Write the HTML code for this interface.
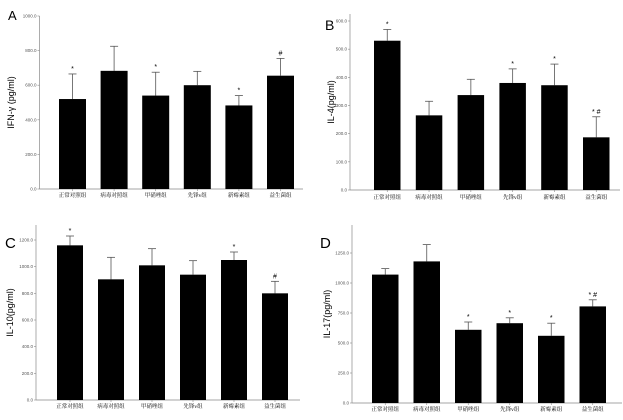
<!DOCTYPE html>
<html><head><meta charset="utf-8">
<style>
html,body{margin:0;padding:0;background:#fff;}
svg{display:block;}
text{font-family:"Liberation Sans","Noto Sans CJK SC",sans-serif;fill:#000;}
.tick{font-size:4.5px;fill:#555;}
.cat{font-size:5.5px;font-family:"Liberation Serif","Noto Serif CJK SC",serif;}
</style></head>
<body>
<svg id="chart" width="623" height="420" viewBox="0 0 623 420" xmlns="http://www.w3.org/2000/svg"></svg>
<script>
const categories = ["正常对照组","病毒对照组","甲硝唑组","先锋v组","新霉素组","益生菌组"];
const aValues = [520,683,540,600,483,655];
const aErrors = [665,825,675,680,540,755];
const aMarks = ["*","","*","","*","#"];
const aTicks = [0,200,400,600,800,1000];
const bValues = [530,265,337,380,372,187];
const bErrors = [570,315,393,430,447,260];
const bMarks = ["*","","","*","*","* #"];
const bTicks = [0,100,200,300,400,500,600];
const cValues = [1160,905,1010,940,1050,800];
const cErrors = [1230,1070,1135,1045,1110,890];
const cMarks = ["*","","","","*","#"];
const cTicks = [0,200,400,600,800,1000,1200];
const dValues = [1070,1180,610,665,560,805];
const dErrors = [1120,1320,675,710,665,860];
const dMarks = ["","","*","*","*","* #"];
const dTicks = [0,250,500,750,1000,1250];

const NS="http://www.w3.org/2000/svg";
const svg=document.getElementById('chart');
function mk(tag,attrs,parent){const e=document.createElementNS(NS,tag);for(const k in attrs)e.setAttribute(k,attrs[k]);(parent||svg).appendChild(e);return e;}

const panels=[
 {key:'a',letter:'A',lx:8,ly:20,lsize:13,ax:39.5,top:16,y0:189,tickMax:1000,x0:59,step:41.6,bw:27,xend:303,ylab:'IFN-γ (pg/ml)',ylx:14,values:aValues,errors:aErrors,marks:aMarks,ticks:aTicks,catY:197},
 {key:'b',letter:'B',lx:325,ly:30,lsize:14,ax:350,top:14,y0:190,tickMax:600,tickTop:21,x0:374,step:41.8,bw:26.5,xend:620,ylab:'IL-4(pg/ml)',ylx:334,values:bValues,errors:bErrors,marks:bMarks,ticks:bTicks,catY:199},
 {key:'c',letter:'C',lx:5,ly:248,lsize:15,ax:36,top:225,y0:400,tickMax:1200,tickTop:240,x0:57,step:41,bw:26,xend:300,ylab:'IL-10(pg/ml)',ylx:13,values:cValues,errors:cErrors,marks:cMarks,ticks:cTicks,catY:408},
 {key:'d',letter:'D',lx:320,ly:248,lsize:15,ax:352,top:225,y0:403,tickMax:1250,tickTop:253,x0:372,step:41.5,bw:26.5,xend:622,ylab:'IL-17(pg/ml)',ylx:330,values:dValues,errors:dErrors,marks:dMarks,ticks:dTicks,catY:411}
];

panels.forEach(p=>{
  const g=mk('g',{});
  
  
  const tTop = p.tickTop!==undefined ? p.tickTop : p.top;
  const yScale=v=>p.y0-(v/p.tickMax)*(p.y0-tTop);
  const xPos=i=>p.x0+i*p.step;
  const L=mk('text',{x:p.lx,y:p.ly,'font-size':p.lsize},g);
  L.textContent=p.letter;
  
  
  const ya=mk('line',{x1:p.ax,y1:p.top,x2:p.ax,y2:p.y0,stroke:'#888','stroke-width':0.7},g);
  
  
  const xa=mk('line',{x1:p.ax,y1:p.y0,x2:p.xend,y2:p.y0,stroke:'#888','stroke-width':0.7},g);
  
  
  p.ticks.forEach(t=>{
    const y=yScale(t);
    mk('line',{x1:p.ax-2,y1:y,x2:p.ax,y2:y,stroke:'#888','stroke-width':0.6},g);
    const tx=mk('text',{x:p.ax-3,y:y+1.5,'text-anchor':'end',class:'tick'},g);
    tx.textContent=t.toFixed(1);
    
    
  });
  const yl=mk('text',{x:p.ylx,y:(p.top+p.y0)/2,'text-anchor':'middle','font-size':9,transform:`rotate(-90 ${p.ylx} ${(p.top+p.y0)/2})`},g);
  yl.textContent=p.ylab;
  
  
  categories.forEach((c,i)=>{
    const x=xPos(i), cx=x+p.bw/2;
    const ye=yScale(p.errors[i]), yv=yScale(p.values[i]);
    const el=mk('line',{x1:cx,y1:ye,x2:cx,y2:yv,stroke:'#555','stroke-width':0.8},g);
    
    
    mk('line',{x1:cx-4,y1:ye,x2:cx+4,y2:ye,stroke:'#555','stroke-width':0.8},g);
    const r=mk('rect',{x:x,y:yv,width:p.bw,height:p.y0-yv,fill:'#000'},g);
    
    
    mk('line',{x1:cx,y1:p.y0,x2:cx,y2:p.y0+2,stroke:'#888','stroke-width':0.6},g);
    if(p.marks[i]){
      const m=mk('text',{x:cx,y:ye-3,'text-anchor':'middle','font-size':7},g);
      m.textContent=p.marks[i];
      
      
    }
    const ct=mk('text',{x:cx,y:p.catY,'text-anchor':'middle',class:'cat'},g);
    ct.textContent=c;
    
    
  });
});
</script>
</body></html>
